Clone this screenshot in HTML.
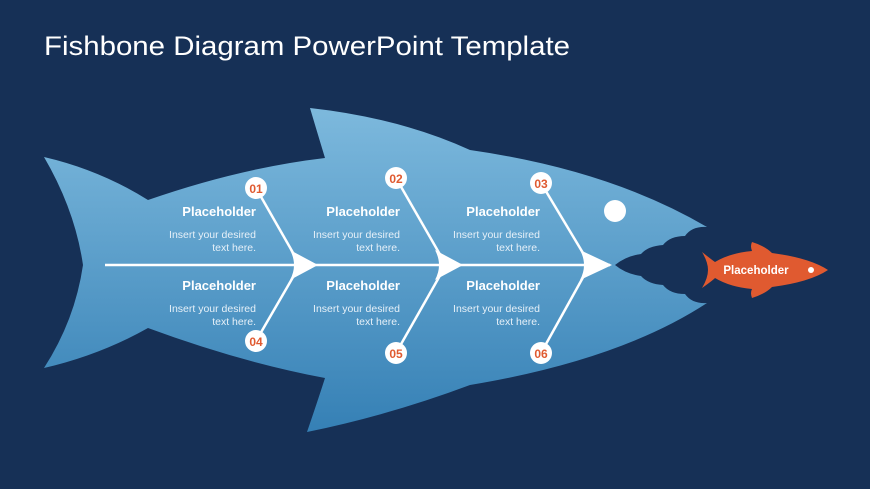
<!DOCTYPE html>
<html><head><style>
body{margin:0;background:#163056;}
svg{display:block;font-family:"Liberation Sans",sans-serif;}
</style></head><body>
<svg width="870" height="489" viewBox="0 0 870 489">
<defs>
<linearGradient id="g" x1="0" y1="0" x2="0" y2="1">
<stop offset="0" stop-color="#7db9dd"/><stop offset="1" stop-color="#3580b5"/>
</linearGradient>
</defs>
<rect width="870" height="489" fill="#163056"/>
<text x="44" y="55" fill="#fff" font-size="27" textLength="526" lengthAdjust="spacingAndGlyphs">Fishbone Diagram PowerPoint Template</text>
<path fill="url(#g)" d="M44,157 Q100,170 148,200 Q240,168 325,158 Q315,125 310,108 Q400,118 470,150 Q610,170 707,227
Q692,226 685,236 Q670,236 663,245 Q648,246 641,254 Q626,256 615,265 Q626,274 641,276 Q648,284 663,285 Q670,294 685,294 Q692,304 707,303
Q620,360 470,385 Q390,415 307,432 Q318,400 325,378 Q240,362 148,328 Q100,355 44,368 Q75,320 83,265 Q75,210 44,157Z"/>
<circle cx="615" cy="211" r="11" fill="#fff"/>
<g stroke="#fff" stroke-width="2.5">
<line x1="105" y1="265" x2="610" y2="265"/>
<line x1="256" y1="188" x2="296" y2="258"/><line x1="256" y1="341" x2="296" y2="272"/>
<line x1="396" y1="178" x2="442" y2="258"/><line x1="396" y1="353" x2="442" y2="272"/>
<line x1="541" y1="183" x2="586" y2="258"/><line x1="541" y1="353" x2="586" y2="272"/>
</g>
<g fill="#fff">
<path d="M290,250 L318,265 L290,280 Q298,265 290,250Z"/>
<path d="M435,250 L463,265 L435,280 Q443,265 435,250Z"/>
<path d="M580,250 L612,265 L580,280 Q588,265 580,250Z"/>
</g>
<g fill="#fff" stroke="none">
<circle cx="256" cy="188" r="11"/><circle cx="396" cy="178" r="11"/><circle cx="541" cy="183" r="11"/>
<circle cx="256" cy="341" r="11"/><circle cx="396" cy="353" r="11"/><circle cx="541" cy="353" r="11"/>
</g>
<g fill="#e05a30" font-size="12" font-weight="bold" text-anchor="middle">
<text x="256" y="193">01</text><text x="396" y="183">02</text><text x="541" y="188">03</text>
<text x="256" y="346">04</text><text x="396" y="358">05</text><text x="541" y="358">06</text>
</g>
<g fill="#fff" text-anchor="end">
<g font-size="13" font-weight="bold">
<text x="256" y="216">Placeholder</text><text x="400" y="216">Placeholder</text><text x="540" y="216">Placeholder</text>
<text x="256" y="290">Placeholder</text><text x="400" y="290">Placeholder</text><text x="540" y="290">Placeholder</text>
</g>
<g font-size="10.5" fill="#e6f0f8">
<text x="256" y="238">Insert your desired</text><text x="256" y="251">text here.</text>
<text x="400" y="238">Insert your desired</text><text x="400" y="251">text here.</text>
<text x="540" y="238">Insert your desired</text><text x="540" y="251">text here.</text>
<text x="256" y="312">Insert your desired</text><text x="256" y="325">text here.</text>
<text x="400" y="312">Insert your desired</text><text x="400" y="325">text here.</text>
<text x="540" y="312">Insert your desired</text><text x="540" y="325">text here.</text>
</g>
</g>
<path fill="#e05a30" d="M702,252 Q712,260 715,262 Q730,253 752,251 Q750,246 752,242 Q765,246 772,253 Q810,258 828,270 Q810,282 772,287 Q765,294 752,298 Q750,293 752,289 Q730,287 715,278 Q712,281 702,288 Q708,278 708,270 Q708,262 702,252Z"/>
<circle cx="811" cy="270" r="3" fill="#fff"/>
<text x="756" y="274" fill="#fff" font-size="11.5" font-weight="bold" text-anchor="middle">Placeholder</text>
</svg>
</body></html>
